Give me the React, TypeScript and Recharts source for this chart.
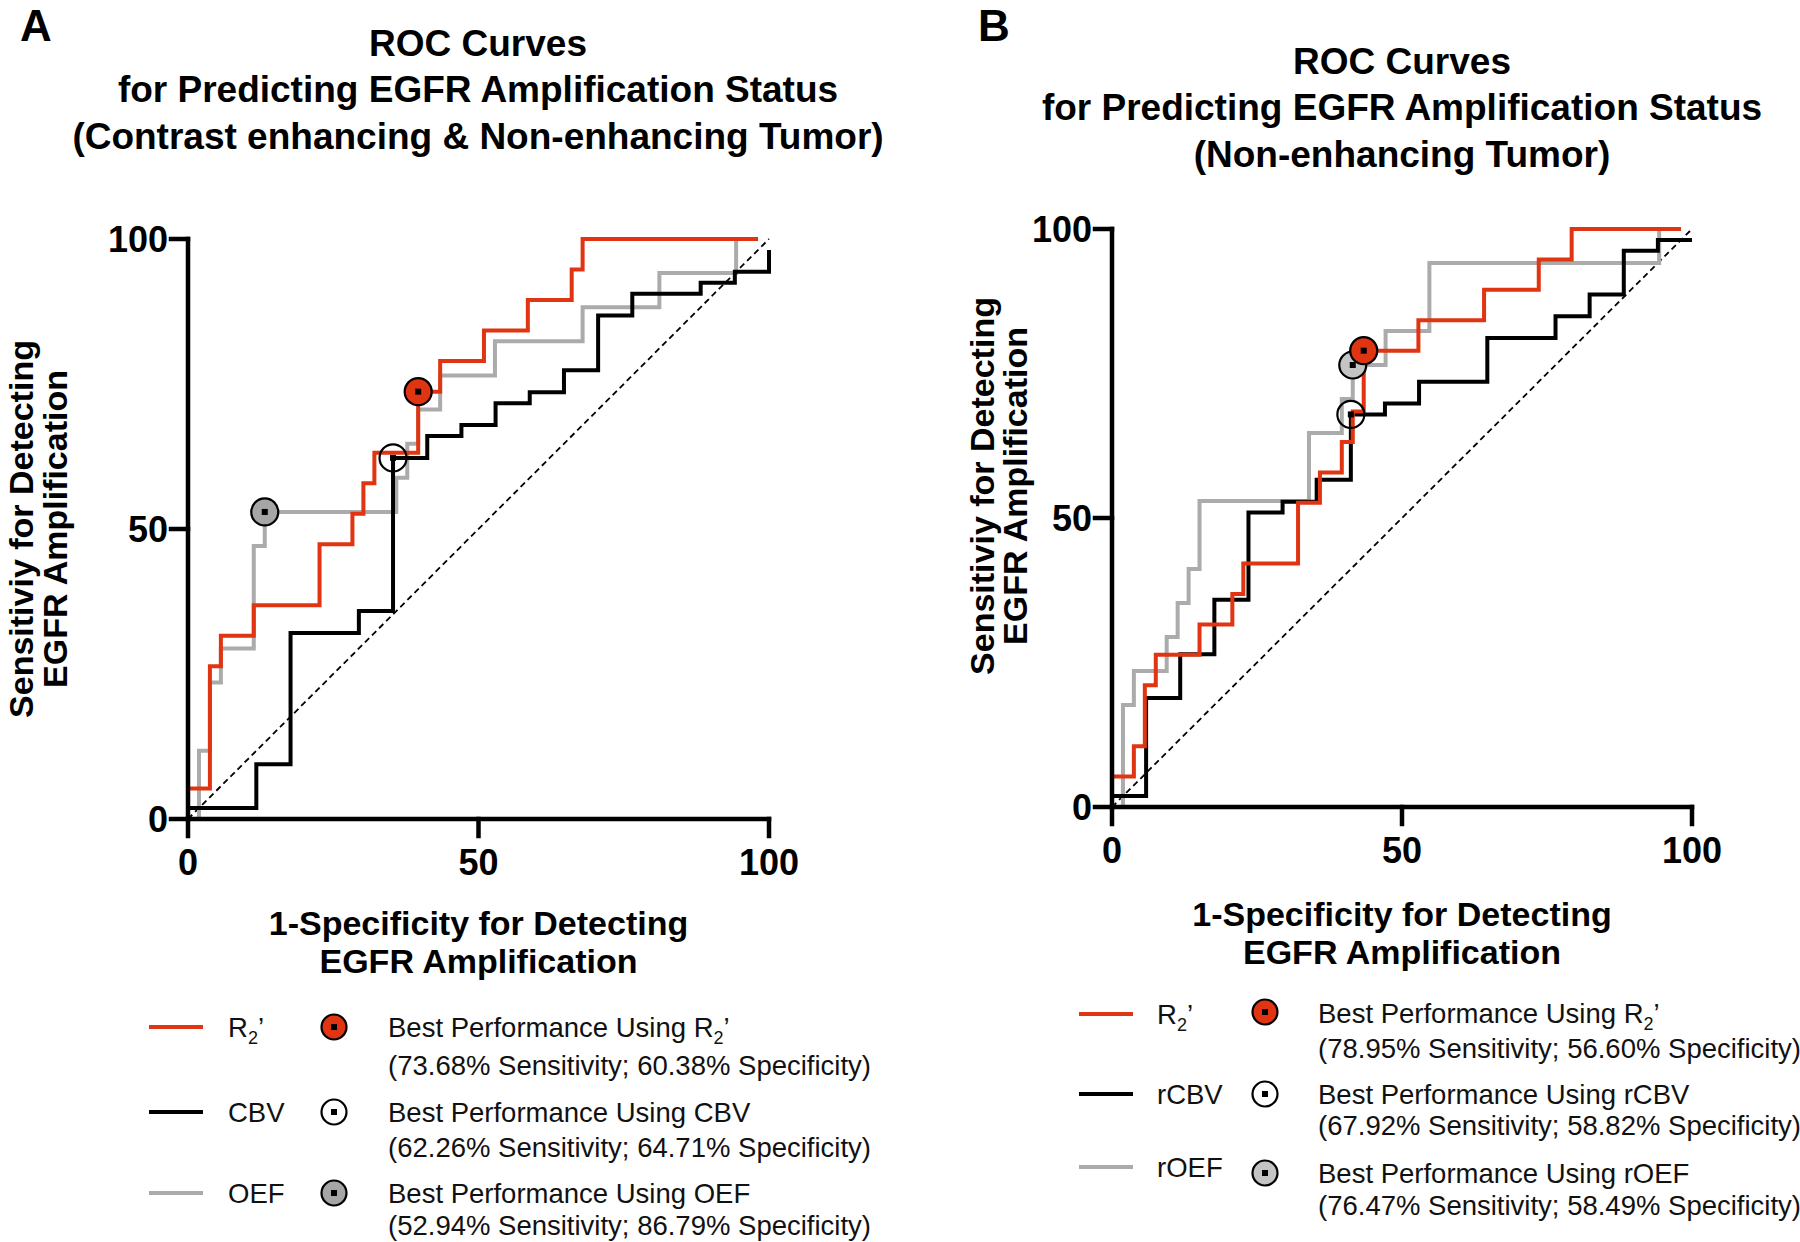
import React from 'react';
import { ComposedChart, Line, Scatter, XAxis, YAxis } from 'recharts';

const FONT = '"Liberation Sans", Arial, Helvetica, sans-serif';
const RED = '#E03412';
const GREY = '#ABABAB';
const BLACK = '#000000';

type Pt = { x: number; y: number };
const toPts = (arr: number[][]): Pt[] => arr.map(([x, y]) => ({ x, y }));

// ---------- Panel A: Contrast enhancing & Non-enhancing Tumor ----------
// ROC points as [1-specificity %, sensitivity %]
const rocA_R2 = [
  [0, 0], [0, 5.26], [3.77, 26.32], [5.66, 31.58], [11.32, 36.84], [22.64, 47.37],
  [28.3, 52.63], [30.19, 57.89], [32.08, 63.16], [39.62, 73.68], [43.4, 78.95],
  [50.94, 84.21], [58.49, 89.47], [66.04, 94.74], [67.92, 100], [98.11, 100],
];
const rocA_CBV = [
  [0, 0], [0, 1.89], [11.76, 9.43], [17.65, 32.08], [29.41, 35.85], [35.29, 62.26],
  [41.18, 66.04], [47.06, 67.92], [52.94, 71.7], [58.82, 73.58], [64.71, 77.36],
  [70.59, 86.79], [76.47, 90.57], [88.24, 92.45], [94.12, 94.34], [100, 98.11],
];
const rocA_OEF = [
  [0, 0], [1.89, 11.76], [3.77, 23.53], [5.66, 29.41], [11.32, 47.06], [13.21, 52.94],
  [35.85, 58.82], [37.74, 64.71], [39.62, 70.59], [43.4, 76.47], [52.83, 82.35],
  [67.92, 88.24], [81.13, 94.12], [94.34, 100], [98.11, 100],
];
const bestA_R2 = [[39.62, 73.68]];
const bestA_CBV = [[35.29, 62.26]];
const bestA_OEF = [[13.21, 52.94]];

// ---------- Panel B: Non-enhancing Tumor ----------
const rocB_R2 = [
  [0, 0], [0, 5.26], [3.77, 10.53], [5.66, 21.05], [7.55, 26.32], [15.09, 31.58],
  [20.75, 36.84], [22.64, 42.11], [32.08, 52.63], [35.85, 57.89], [39.62, 63.16],
  [41.51, 68.42], [43.4, 78.95], [52.83, 84.21], [64.15, 89.47], [73.58, 94.74],
  [79.25, 100], [98.11, 100],
];
const rocB_CBV = [
  [0, 0], [0, 1.89], [5.88, 18.87], [11.76, 26.42], [17.65, 35.85], [23.53, 50.94],
  [29.41, 52.83], [35.29, 56.6], [41.18, 67.92], [47.06, 69.81], [52.94, 73.58],
  [64.71, 81.13], [76.47, 84.91], [82.35, 88.68], [88.24, 96.23], [94.12, 98.11],
  [100, 98.11],
];
const rocB_OEF = [
  [0, 0], [1.89, 17.65], [3.77, 23.53], [9.43, 29.41], [11.32, 35.29], [13.21, 41.18],
  [15.09, 52.94], [33.96, 64.71], [39.62, 70.59], [41.51, 76.47], [47.17, 82.35],
  [54.72, 94.12], [94.34, 100], [98.11, 100],
];
const bestB_R2 = [[43.4, 78.95]];
const bestB_CBV = [[41.18, 67.92]];
const bestB_OEF = [[41.51, 76.47]];

const chanceLine = [[0, 0], [100, 100]];
const axisTicks = [0, 50, 100];

const titleA = [
  'ROC Curves',
  'for Predicting EGFR Amplification Status',
  '(Contrast enhancing & Non-enhancing Tumor)',
];
const titleB = ['ROC Curves', 'for Predicting EGFR Amplification Status', '(Non-enhancing Tumor)'];
const xTitle = ['1-Specificity for Detecting', 'EGFR Amplification'];
const yTitle = ['Sensitiviy for Detecting', 'EGFR Amplification'];

const legendA = [
  { name: 'R2', color: RED, fill: RED, text: 'Best Performance Using ', sub: true, stats: '(73.68% Sensitivity; 60.38% Specificity)' },
  { name: 'CBV', color: BLACK, fill: '#FFFFFF', text: 'Best Performance Using CBV', sub: false, stats: '(62.26% Sensitivity; 64.71% Specificity)' },
  { name: 'OEF', color: GREY, fill: '#A6A6A6', text: 'Best Performance Using OEF', sub: false, stats: '(52.94% Sensitivity; 86.79% Specificity)' },
];
const legendB = [
  { name: 'R2', color: RED, fill: RED, text: 'Best Performance Using ', sub: true, stats: '(78.95% Sensitivity; 56.60% Specificity)' },
  { name: 'rCBV', color: BLACK, fill: '#FFFFFF', text: 'Best Performance Using rCBV', sub: false, stats: '(67.92% Sensitivity; 58.82% Specificity)' },
  { name: 'rOEF', color: GREY, fill: '#C4C4C4', text: 'Best Performance Using rOEF', sub: false, stats: '(76.47% Sensitivity; 58.49% Specificity)' },
];

const makeMarker = (fill: string) => (props: any) => {
  const { cx, cy } = props;
  if (cx == null || cy == null) return <g />;
  return (
    <g>
      <circle cx={cx} cy={cy} r={13.5} fill={fill} stroke="#000" strokeWidth={2.2} />
      <rect x={cx - 3} y={cy - 3} width={6} height={6} fill="#000" />
    </g>
  );
};

type PanelProps = {
  left: number;
  margin: { top: number; right: number; bottom: number; left: number };
  r2: number[][];
  cbv: number[][];
  oef: number[][];
  bR2: number[][];
  bCBV: number[][];
  bOEF: number[][];
  oefFill: string;
};

function RocPanel(p: PanelProps) {
  const tickStyle = { fill: '#000', fontSize: 36, fontWeight: 700, fontFamily: FONT };
  const axLine = { stroke: '#000', strokeWidth: 4.5, strokeLinecap: 'square' as const };
  return (
    <div style={{ position: 'absolute', left: p.left, top: 0 }}>
      <ComposedChart width={900} height={1242} margin={p.margin}>
        <XAxis
          type="number"
          dataKey="x"
          domain={[0, 100]}
          ticks={axisTicks}
          interval={0}
          height={60}
          tick={tickStyle}
          axisLine={axLine}
          tickLine={axLine}
          tickSize={17}
          tickMargin={13}
        />
        <YAxis
          type="number"
          dataKey="y"
          domain={[0, 100]}
          ticks={axisTicks}
          interval={0}
          width={80}
          tick={tickStyle}
          axisLine={axLine}
          tickLine={axLine}
          tickSize={17}
          tickMargin={3}
        />
        <Line
          data={toPts(chanceLine)}
          dataKey="y"
          type="linear"
          stroke="#000"
          strokeWidth={1.8}
          strokeDasharray="6 4"
          dot={false}
          activeDot={false}
          isAnimationActive={false}
        />
        <Line data={toPts(p.oef)} dataKey="y" type="stepAfter" stroke={GREY} strokeWidth={4} dot={false} activeDot={false} isAnimationActive={false} />
        <Line data={toPts(p.cbv)} dataKey="y" type="stepAfter" stroke={BLACK} strokeWidth={4} dot={false} activeDot={false} isAnimationActive={false} />
        <Line data={toPts(p.r2)} dataKey="y" type="stepAfter" stroke={RED} strokeWidth={4} dot={false} activeDot={false} isAnimationActive={false} />
        <Scatter data={toPts(p.bCBV)} dataKey="y" shape={makeMarker('none')} isAnimationActive={false} />
        <Scatter data={toPts(p.bOEF)} dataKey="y" shape={makeMarker(p.oefFill)} isAnimationActive={false} />
        <Scatter data={toPts(p.bR2)} dataKey="y" shape={makeMarker(RED)} isAnimationActive={false} />
      </ComposedChart>
    </div>
  );
}

const LFS = 27.5;

function R2Label({ x, y }: { x: number; y: number }) {
  return (
    <text x={x} y={y} fontSize={LFS} fill="#111">
      R<tspan fontSize={18} dy={7}>2</tspan>
      <tspan dy={-7}>{'\u2019'}</tspan>
    </text>
  );
}

type LegendProps = {
  items: typeof legendA;
  lineX: number;
  labelX: number;
  circleX: number;
  textX: number;
  rows: { line: number; circle: number; text: number; stats: number }[];
};

function LegendBlock({ items, lineX, labelX, circleX, textX, rows }: LegendProps) {
  return (
    <g>
      {items.map((it, i) => {
        const r = rows[i];
        return (
          <g key={it.name}>
            <line x1={lineX} x2={lineX + 54} y1={r.line} y2={r.line} stroke={it.color} strokeWidth={4} />
            {it.sub ? (
              <R2Label x={labelX} y={r.line + 10} />
            ) : (
              <text x={labelX} y={r.line + 10} fontSize={LFS} fill="#111">
                {it.name}
              </text>
            )}
            <circle cx={circleX} cy={r.circle} r={12.5} fill={it.fill} stroke="#000" strokeWidth={2.2} />
            <rect x={circleX - 3} y={r.circle - 3} width={6} height={6} fill="#000" />
            <text x={textX} y={r.text} fontSize={LFS} fill="#111">
              {it.text}
              {it.sub ? (
                <>
                  R<tspan fontSize={18} dy={7}>2</tspan>
                  <tspan dy={-7}>{'\u2019'}</tspan>
                </>
              ) : null}
            </text>
            <text x={textX} y={r.stats} fontSize={LFS} fill="#111">
              {it.stats}
            </text>
          </g>
        );
      })}
    </g>
  );
}

function Overlay() {
  return (
    <svg
      width={1800}
      height={1242}
      style={{ position: 'absolute', left: 0, top: 0, pointerEvents: 'none', fontFamily: FONT }}
    >
      <text x={20} y={41} fontSize={44} fontWeight="bold">A</text>
      <text x={978} y={41} fontSize={44} fontWeight="bold">B</text>

      {titleA.map((t, i) => (
        <text key={'ta' + i} x={478} y={[56, 102, 149][i]} textAnchor="middle" fontSize={37} fontWeight="bold">
          {t}
        </text>
      ))}
      {titleB.map((t, i) => (
        <text key={'tb' + i} x={1402} y={[74, 120, 167][i]} textAnchor="middle" fontSize={37} fontWeight="bold">
          {t}
        </text>
      ))}

      {xTitle.map((t, i) => (
        <text key={'xa' + i} x={478.5} y={[935, 973][i]} textAnchor="middle" fontSize={34} fontWeight="bold">
          {t}
        </text>
      ))}
      {xTitle.map((t, i) => (
        <text key={'xb' + i} x={1402} y={[926, 964][i]} textAnchor="middle" fontSize={34} fontWeight="bold">
          {t}
        </text>
      ))}

      {yTitle.map((t, i) => (
        <text key={'ya' + i} transform={`translate(${[33, 67][i]},529) rotate(-90)`} textAnchor="middle" fontSize={34} fontWeight="bold">
          {t}
        </text>
      ))}
      {yTitle.map((t, i) => (
        <text key={'yb' + i} transform={`translate(${[994, 1027][i]},486) rotate(-90)`} textAnchor="middle" fontSize={34} fontWeight="bold">
          {t}
        </text>
      ))}

      <LegendBlock
        items={legendA}
        lineX={149}
        labelX={228}
        circleX={334}
        textX={388}
        rows={[
          { line: 1027, circle: 1027, text: 1037, stats: 1075 },
          { line: 1112, circle: 1112, text: 1122, stats: 1157 },
          { line: 1193, circle: 1193, text: 1203, stats: 1235 },
        ]}
      />
      <LegendBlock
        items={legendB}
        lineX={1079}
        labelX={1157}
        circleX={1265}
        textX={1318}
        rows={[
          { line: 1014, circle: 1012, text: 1023, stats: 1058 },
          { line: 1094, circle: 1094, text: 1104, stats: 1135 },
          { line: 1167, circle: 1173, text: 1183, stats: 1215 },
        ]}
      />
    </svg>
  );
}

export default function App() {
  return (
    <div style={{ position: 'absolute', left: 0, top: 0, width: 1800, height: 1242, background: '#fff', fontFamily: FONT, overflow: 'hidden' }}>
      <RocPanel
        left={0}
        margin={{ top: 239, right: 131, bottom: 363, left: 108 }}
        r2={rocA_R2}
        cbv={rocA_CBV}
        oef={rocA_OEF}
        bR2={bestA_R2}
        bCBV={bestA_CBV}
        bOEF={bestA_OEF}
        oefFill="#A6A6A6"
      />
      <RocPanel
        left={900}
        margin={{ top: 229, right: 108, bottom: 375, left: 132 }}
        r2={rocB_R2}
        cbv={rocB_CBV}
        oef={rocB_OEF}
        bR2={bestB_R2}
        bCBV={bestB_CBV}
        bOEF={bestB_OEF}
        oefFill="#C4C4C4"
      />
      <Overlay />
    </div>
  );
}
